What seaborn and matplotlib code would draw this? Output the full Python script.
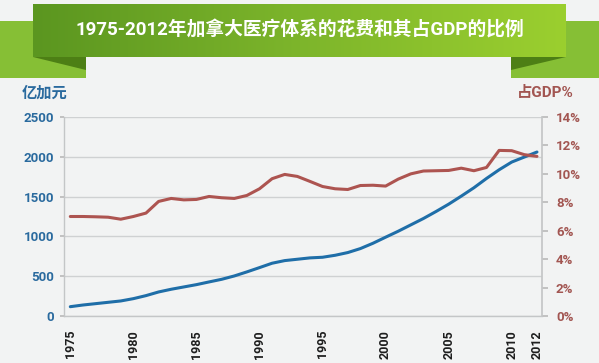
import numpy as np
import pandas as pd
import matplotlib
matplotlib.use("Agg")
import matplotlib.pyplot as plt
import seaborn as sns
from matplotlib.patches import Polygon
from matplotlib.ticker import FuncFormatter

years = list(range(1975, 2013))
spending = [117, 138, 155, 172, 189, 218, 256, 302, 336, 365,
            394, 428, 461, 503, 554, 608, 663, 696, 713, 730,
            738, 763, 797, 847, 914, 990, 1065, 1145, 1225, 1313,
            1405, 1506, 1611, 1728, 1837, 1934, 1997, 2060]
gdp_share = [7.00, 7.00, 6.98, 6.95, 6.81, 7.00, 7.24, 8.06, 8.27, 8.17,
             8.20, 8.41, 8.32, 8.27, 8.48, 8.95, 9.66, 9.96, 9.82, 9.47,
             9.11, 8.95, 8.90, 9.18, 9.20, 9.14, 9.63, 10.00, 10.20, 10.22,
             10.24, 10.40, 10.22, 10.45, 11.65, 11.63, 11.35, 11.23]
xticks = [1975, 1980, 1985, 1990, 1995, 2000, 2005, 2010, 2012]

BG = "#f2f3f3"
BLUE = "#1f6ea8"
RED = "#ad5450"
BLUE_TXT = "#2a6a9e"
RED_TXT = "#a25551"

df = pd.DataFrame({"year": years, "spending": spending, "share": gdp_share})

sns.set_theme(style="white")
plt.rcParams["font.family"] = ["Roboto", "Noto Sans CJK SC", "DejaVu Sans"]

fig = plt.figure(figsize=(5.99, 3.63), dpi=100)
fig.patch.set_facecolor(BG)


def fx(px):
    return px / 599


def fy(py):
    return 1 - py / 363


# title ribbon
ends = [
    [(0, 21), (86, 21), (86, 78), (0, 78)],
    [(511, 21), (599, 21), (599, 78), (511, 78)],
]
for pts in ends:
    fig.patches.append(Polygon([(fx(a), fy(b)) for a, b in pts], closed=True,
                               transform=fig.transFigure, facecolor="#86bf35",
                               edgecolor="none", zorder=0))
folds = [
    [(33, 57), (86, 57), (86, 70)],
    [(566, 57), (511, 57), (511, 70)],
]
for pts in folds:
    fig.patches.append(Polygon([(fx(a), fy(b)) for a, b in pts], closed=True,
                               transform=fig.transFigure, facecolor="#4d7f15",
                               edgecolor="none", zorder=1))

bax = fig.add_axes([fx(33), fy(57), fx(566) - fx(33), fy(4) - fy(57)], zorder=2)
grad = np.linspace(0, 1, 256).reshape(1, -1)
cmap = matplotlib.colors.LinearSegmentedColormap.from_list("g", ["#5b9620", "#7db52b", "#9bcf2f"])
bax.imshow(grad, aspect="auto", cmap=cmap, extent=[0, 1, 0, 1])
bax.set_xlim(0, 1)
bax.set_ylim(0, 1)
bax.axis("off")
bax.text(0.5, 0.5, "1975-2012年加拿大医疗体系的花费和其占GDP的比例",
         color="white", fontsize=13.5, fontweight="bold", ha="center", va="center")

# main chart
ax = fig.add_axes([fx(64), fy(316), fx(542) - fx(64), fy(117) - fy(316)])
ax.set_facecolor(BG)
sns.lineplot(data=df, x="year", y="spending", ax=ax, color=BLUE, linewidth=2.2)
ax.set_ylim(0, 2500)
ax.set_yticks(range(0, 2501, 500))
ax.set_xlim(1974.5, 2012.4)
ax.set_xticks(xticks)
ax.set_xticklabels([str(x) for x in xticks], rotation=90, fontsize=9,
                   fontweight="bold", color="#1e1e1e")
ax.grid(axis="y", color="#cfd1d2", linewidth=1)
ax.grid(axis="x", visible=False)
ax.set_xlabel("")
ax.set_ylabel("")
ax.tick_params(axis="y", labelsize=9.5, labelcolor=BLUE_TXT, left=True,
               length=3, color="#bbbbbb", pad=4)
ax.tick_params(axis="x", bottom=False, pad=4)
for lbl in ax.get_yticklabels():
    lbl.set_fontweight("bold")
for side in ["top", "right"]:
    ax.spines[side].set_visible(False)
for side in ["left", "bottom"]:
    ax.spines[side].set_color("#c4c6c7")
    ax.spines[side].set_linewidth(1)

ax2 = ax.twinx()
sns.lineplot(data=df, x="year", y="share", ax=ax2, color=RED, linewidth=2.2)
ax2.set_ylim(0, 14)
ax2.set_yticks(range(0, 15, 2))
ax2.yaxis.set_major_formatter(FuncFormatter(lambda v, p: f"{int(v)}%"))
ax2.set_ylabel("")
ax2.grid(False)
ax2.tick_params(axis="y", labelsize=9.5, labelcolor=RED_TXT, right=True,
                length=4, color="#bbbbbb", pad=6)
for lbl in ax2.get_yticklabels():
    lbl.set_fontweight("bold")
for side in ["top", "left", "bottom"]:
    ax2.spines[side].set_visible(False)
ax2.spines["right"].set_color("#c4c6c7")

fig.text(fx(22), fy(93), "亿加元", color=BLUE_TXT, fontsize=11,
         fontweight="bold", ha="left", va="center")
fig.text(fx(574), fy(93), "占GDP%", color=RED_TXT, fontsize=11,
         fontweight="bold", ha="right", va="center")

fig.savefig("out.png", dpi=100, facecolor=BG)
